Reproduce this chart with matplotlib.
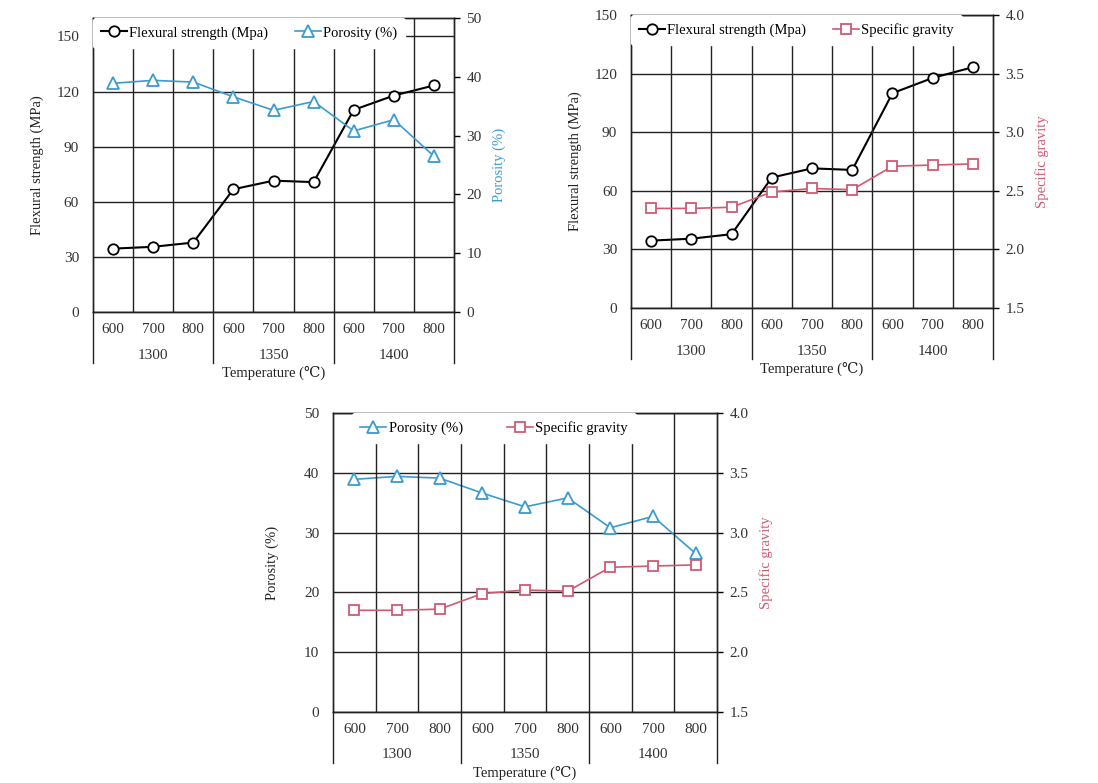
import matplotlib
matplotlib.use("Agg")
import matplotlib.pyplot as plt
from matplotlib.transforms import offset_copy

plt.rcParams["font.family"] = ["Liberation Serif", "DejaVu Serif", "DejaVu Sans"]

# sintering temperature groups, each with three holding temperatures
groups = ["1300", "1350", "1400"]
temps = ["600", "700", "800"] * 3

flexural = [34.5, 35.5, 37.8, 66.8, 71.5, 70.7, 110, 117.8, 123.3]
porosity = [38.9, 39.4, 39.1, 36.6, 34.3, 35.8, 30.8, 32.7, 26.5]
gravity = [2.35, 2.35, 2.36, 2.49, 2.52, 2.51, 2.71, 2.72, 2.73]

BLUE = "#3a9bd0"
PINK = "#cf5a72"
FIG_W, FIG_H = 1098, 783

fig = plt.figure(figsize=(FIG_W / 100, FIG_H / 100), dpi=100)

series = {
    "flex": dict(y=flexural, color="black", marker="o", ms=7.5, lw=1.5,
                 label="Flexural strength (Mpa)"),
    "por": dict(y=porosity, color=BLUE, marker="^", ms=8.5, lw=1.2,
                label="Porosity (%)"),
    "sg": dict(y=gravity, color=PINK, marker="s", ms=7, lw=1.2,
               label="Specific gravity"),
}


def draw(s, ax):
    x = range(len(s["y"]))
    return ax.plot(x, s["y"], color=s["color"], lw=s["lw"], marker=s["marker"],
                   ms=s["ms"], mfc="white", mec=s["color"], mew=1.3,
                   label=s["label"])[0]


def panel(rect, left, right, lylim, lticks, rylim, rticks, rfmt,
          llabel, rlabel, rcolor, lpad, leg_cs, leg_x):
    ax = fig.add_axes(rect)
    ax2 = ax.twinx()
    h1 = draw(series[left], ax)
    h2 = draw(series[right], ax2)
    ax.set_xlim(-0.5, 8.5)
    ax.set_ylim(*lylim)
    ax.set_yticks(lticks)
    ax.set_yticklabels([str(t) for t in lticks])
    ax2.set_ylim(*rylim)
    ax2.set_yticks(rticks)
    ax2.set_yticklabels([rfmt.format(t) for t in rticks])

    ax.grid(axis="y", color="#222222", lw=1.0)
    for b in [0.5, 1.5, 2.5, 3.5, 4.5, 5.5, 6.5, 7.5]:
        ax.axvline(b, color="#222222", lw=1.0)
    ax.set_axisbelow(True)

    ax.set_xticks(range(9))
    ax.set_xticklabels(temps)
    ax.tick_params(axis="x", length=0, pad=8, labelsize=11, labelcolor="#333333")
    ax.tick_params(axis="y", length=0, pad=10, labelsize=11, labelcolor="#333333")
    ax2.tick_params(axis="y", direction="out", length=4, width=1, pad=5,
                    labelsize=11, labelcolor="#333333")
    for a in (ax, ax2):
        for sp in a.spines.values():
            sp.set_color("#222222")
            sp.set_linewidth(1.0)

    # group labels and separators below the axis
    h_px = rect[3] * FIG_H
    for b in [-0.5, 2.5, 5.5, 8.5]:
        ax.plot([b, b], [0, -51 / h_px], transform=ax.get_xaxis_transform(),
                color="#222222", lw=1.0, clip_on=False)
    trans = offset_copy(ax.get_xaxis_transform(), fig=fig, y=-43, units="dots")
    for i, g in enumerate(groups):
        ax.text(3 * i + 1, 0, g, transform=trans, ha="center", va="center",
                fontsize=11, color="#333333")
    trans = offset_copy(ax.get_xaxis_transform(), fig=fig, y=-61, units="dots")
    ax.text(4, 0, "Temperature (℃)", transform=trans, ha="center", va="center",
            fontsize=10.5, color="#222222")

    ax.set_ylabel(llabel, fontsize=10.5, color="#222222", labelpad=lpad)
    ax2.set_ylabel(rlabel, fontsize=10.5, color=rcolor, labelpad=8)

    leg = ax2.legend([h1, h2], [h1.get_label(), h2.get_label()], ncol=2,
                     loc="upper left", bbox_to_anchor=(leg_x, 1.0),
                     borderaxespad=0, frameon=True, fontsize=10.5,
                     handlelength=1.8, handletextpad=0.15, columnspacing=leg_cs,
                     borderpad=0.55)
    leg.get_frame().set_facecolor("white")
    leg.get_frame().set_edgecolor("white")
    leg.get_frame().set_alpha(1)
    return ax, ax2


panel([0.0847, 0.6015, 0.3288, 0.3755], "flex", "por",
      (0, 160), [0, 30, 60, 90, 120, 150], (0, 50), [0, 10, 20, 30, 40, 50], "{:d}",
      "Flexural strength (MPa)", "Porosity (%)", BLUE, 9, 1.8, 0.0)

panel([0.5747, 0.6066, 0.3297, 0.3742], "flex", "sg",
      (0, 150), [0, 30, 60, 90, 120, 150], (1.5, 4.0), [1.5, 2.0, 2.5, 3.0, 3.5, 4.0], "{:.1f}",
      "Flexural strength (MPa)", "Specific gravity", PINK, 9, 1.8, 0.0)

panel([0.3033, 0.0907, 0.3497, 0.3819], "por", "sg",
      (0, 50), [0, 10, 20, 30, 40, 50], (1.5, 4.0), [1.5, 2.0, 2.5, 3.0, 3.5, 4.0], "{:.1f}",
      "Porosity (%)", "Specific gravity", PINK, 18, 3.0, 0.05)

fig.savefig("out.png", dpi=100)
